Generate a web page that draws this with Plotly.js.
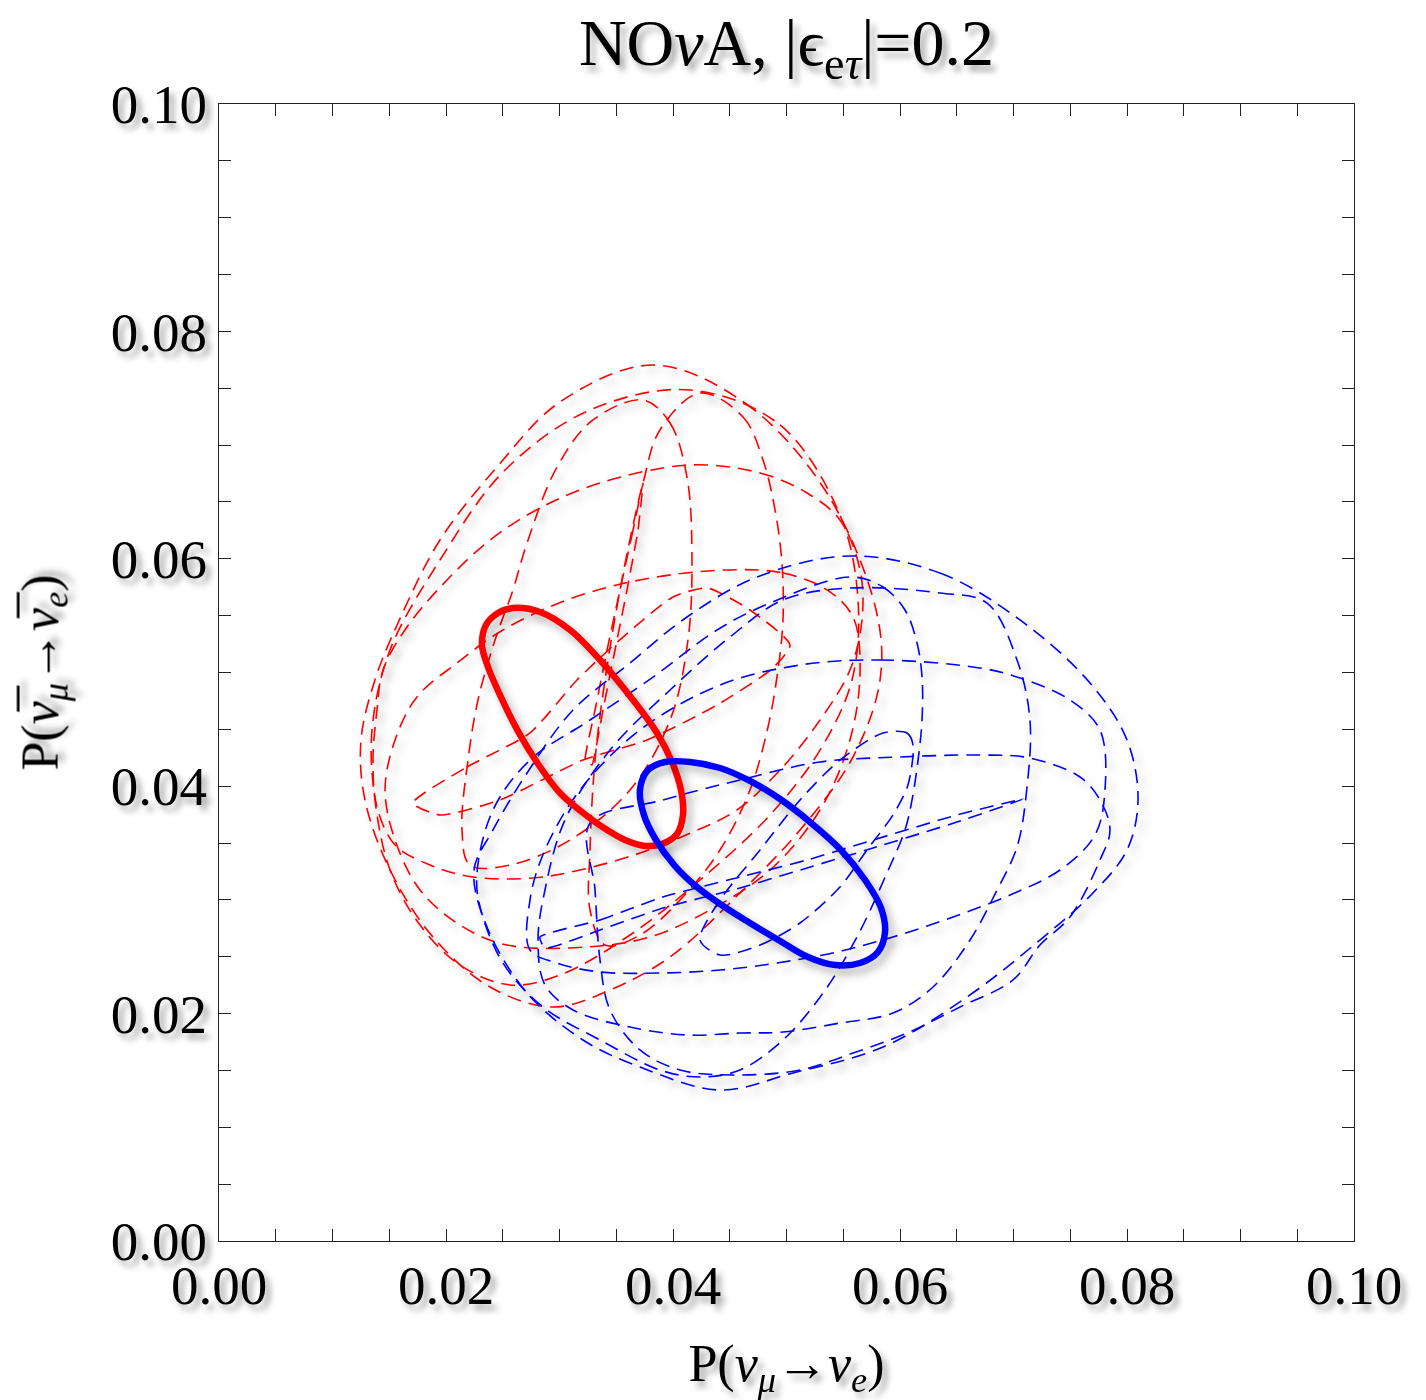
<!DOCTYPE html>
<html>
<head>
<meta charset="utf-8">
<script src="https://cdn.plot.ly/plotly-3.0.1.min.js"></script>
<style>
  body { margin: 0; background: #fff; }
  #chart { width: 1426px; height: 1400px; }
  .scatterlayer .trace path.js-line { filter: drop-shadow(5px 6px 4px rgba(0,0,0,0.28)); }
  .main-svg text { filter: drop-shadow(5px 6px 3px rgba(0,0,0,0.35)); }
</style>
</head>
<body>
<div id="chart"></div>
<script>
// ---- solid curves (standard interactions) ----
const solidRedX = [0.03357,0.03648,0.03859,0.03991,0.04070,0.04088,0.04035,0.03903,0.03753,0.03577,0.03392,0.03198,0.03004,0.02811,0.02634,0.02476,0.02370,0.02317,0.02352,0.02458,0.02590,0.02828,0.03093,0.03357];
const solidRedY = [0.05110,0.04758,0.04468,0.04213,0.03967,0.03747,0.03580,0.03492,0.03475,0.03527,0.03632,0.03773,0.03940,0.04195,0.04485,0.04802,0.05048,0.05242,0.05418,0.05523,0.05567,0.05532,0.05374,0.05110];
const solidBlueX = [0.04943,0.05207,0.05471,0.05692,0.05833,0.05868,0.05806,0.05648,0.05427,0.05189,0.04943,0.04678,0.04441,0.04211,0.04018,0.03850,0.03744,0.03709,0.03780,0.03930,0.04150,0.04414,0.04678,0.04943];
const solidBlueY = [0.03887,0.03685,0.03448,0.03175,0.02929,0.02718,0.02542,0.02445,0.02427,0.02498,0.02639,0.02797,0.02946,0.03113,0.03298,0.03527,0.03747,0.03967,0.04142,0.04213,0.04213,0.04160,0.04046,0.03887];

// ---- dashed red loops (NSI) ----
const r1X = [0.03824,0.04634,0.05339,0.05789,0.05824,0.05586,0.05119,0.04590,0.03974,0.03445,0.02943,0.02388,0.01885,0.01507,0.01286,0.01251,0.01374,0.01577,0.01947,0.02449,0.03004,0.03824];
const r1Y = [0.07704,0.07370,0.06605,0.05550,0.04934,0.04257,0.03615,0.03061,0.02498,0.02208,0.02058,0.02234,0.02674,0.03263,0.03879,0.04406,0.04934,0.05435,0.06165,0.06807,0.07379,0.07704];
const r2X = [0.04150,0.04943,0.05471,0.05630,0.05577,0.05295,0.04855,0.04238,0.03621,0.03004,0.02564,0.02123,0.01771,0.01507,0.01374,0.01348,0.01507,0.01947,0.02520,0.03269,0.04150];
const r2Y = [0.07485,0.07177,0.06385,0.05638,0.04934,0.04318,0.03747,0.03175,0.02691,0.02339,0.02252,0.02427,0.02779,0.03263,0.03879,0.04494,0.05198,0.05989,0.06781,0.07309,0.07485];
const r3X = [0.04150,0.04767,0.05181,0.05471,0.05648,0.05665,0.05559,0.05295,0.04943,0.04564,0.04176,0.03709,0.03181,0.02767,0.02238,0.01859,0.01551,0.01392,0.01357,0.01392,0.01445,0.01656,0.02009,0.02388,0.02828,0.03357,0.04150];
const r3Y = [0.06825,0.06755,0.06579,0.06341,0.05901,0.05462,0.05022,0.04582,0.04142,0.03791,0.03597,0.03412,0.03263,0.03193,0.03201,0.03307,0.03483,0.03817,0.04230,0.04670,0.05022,0.05400,0.05814,0.06165,0.06447,0.06667,0.06825];
const r4X = [0.04441,0.04969,0.05357,0.05586,0.05648,0.05559,0.05295,0.04855,0.04326,0.03797,0.03242,0.02537,0.02123,0.01771,0.01551,0.01463,0.01551,0.01744,0.02097,0.02502,0.03066,0.03709,0.04441];
const r4Y = [0.05901,0.05875,0.05726,0.05488,0.05022,0.04406,0.03791,0.03263,0.02911,0.02674,0.02586,0.02603,0.02779,0.03087,0.03527,0.03967,0.04406,0.04785,0.05084,0.05374,0.05638,0.05814,0.05901];
const r5X = [0.03736,0.03974,0.04123,0.04167,0.04132,0.03974,0.03621,0.03093,0.02564,0.02211,0.02141,0.02194,0.02282,0.02432,0.02590,0.02714,0.02978,0.03295,0.03736];
const r5Y = [0.07397,0.07194,0.06719,0.06016,0.05286,0.04582,0.03967,0.03527,0.03307,0.03307,0.03615,0.04230,0.04758,0.05286,0.05726,0.06139,0.06807,0.07221,0.07397];
const r6X = [0.04238,0.04617,0.04793,0.04899,0.04960,0.04969,0.04925,0.04837,0.04678,0.04414,0.04062,0.03709,0.03401,0.03269,0.03269,0.03313,0.03401,0.03533,0.03639,0.03736,0.03885,0.04238];
const r6Y = [0.07458,0.07247,0.06869,0.06429,0.05963,0.05462,0.05022,0.04521,0.03967,0.03439,0.02999,0.02691,0.02603,0.02911,0.03439,0.04230,0.04934,0.05726,0.06253,0.06667,0.07133,0.07458];
const r7X = [0.03736,0.03648,0.03533,0.03419,0.03313,0.03225,0.03286,0.03383,0.03489,0.03595,0.03692,0.03736];
const r7Y = [0.06667,0.06253,0.05726,0.05198,0.04670,0.04230,0.04186,0.04670,0.05198,0.05726,0.06253,0.06667];
const rnX = [0.01709,0.02185,0.02740,0.03154,0.03559,0.04000,0.04300,0.04678,0.05031,0.04881,0.04388,0.03771,0.03207,0.02476,0.01947,0.01709];
const rnY = [0.03852,0.04169,0.04468,0.04934,0.05312,0.05664,0.05743,0.05550,0.05242,0.05040,0.04714,0.04406,0.04230,0.03879,0.03747,0.03852];

// ---- dashed blue loops (NSI) ----
const b1X = [0.05559,0.06352,0.07057,0.07674,0.08000,0.08097,0.08000,0.07700,0.07233,0.06590,0.05850,0.05057,0.04414,0.03709,0.03207,0.02714,0.02361,0.02247,0.02414,0.02714,0.03119,0.03621,0.04123,0.04740,0.05559];
const b1Y = [0.06025,0.05875,0.05462,0.04908,0.04406,0.03879,0.03439,0.03061,0.02647,0.02146,0.01706,0.01478,0.01328,0.01530,0.01768,0.02181,0.02762,0.03263,0.03615,0.04116,0.04670,0.05084,0.05488,0.05840,0.06025];
const b2X = [0.05559,0.05850,0.06044,0.06150,0.06194,0.06194,0.06159,0.06106,0.06044,0.05885,0.05621,0.05322,0.04969,0.04590,0.04238,0.03885,0.03357,0.02855,0.02502,0.02300,0.02273,0.02414,0.02740,0.03269,0.03824,0.04388,0.04855,0.05559];
const b2Y = [0.05840,0.05752,0.05550,0.05259,0.04960,0.04582,0.04230,0.03879,0.03615,0.03237,0.02674,0.02181,0.01768,0.01504,0.01442,0.01504,0.01768,0.02058,0.02445,0.02938,0.03237,0.03791,0.04230,0.04582,0.04960,0.05374,0.05611,0.05840];
const b3X = [0.05559,0.06352,0.06767,0.07031,0.07145,0.07119,0.07031,0.06855,0.06617,0.06291,0.05938,0.05471,0.04969,0.04590,0.04123,0.03621,0.03119,0.02872,0.02811,0.02872,0.03048,0.03445,0.03974,0.04502,0.04969,0.05559];
const b3Y = [0.05743,0.05699,0.05611,0.05110,0.04582,0.03993,0.03465,0.03087,0.02647,0.02234,0.02005,0.01917,0.01838,0.01829,0.01812,0.01882,0.02032,0.02252,0.02647,0.03087,0.03703,0.04318,0.04846,0.05312,0.05638,0.05743];
const b4X = [0.05119,0.05824,0.06705,0.07057,0.07498,0.07762,0.07806,0.07718,0.07410,0.06969,0.06467,0.05938,0.05445,0.04916,0.04414,0.03885,0.03357,0.02978,0.02740,0.02740,0.02872,0.03181,0.03709,0.04414,0.05119];
const b4Y = [0.05066,0.05110,0.05040,0.04952,0.04758,0.04494,0.03967,0.03571,0.03263,0.03043,0.02850,0.02674,0.02542,0.02445,0.02383,0.02357,0.02366,0.02445,0.02559,0.02999,0.03439,0.03967,0.04494,0.04890,0.05066];
const b5X = [0.03269,0.03912,0.04590,0.05295,0.06000,0.06705,0.07145,0.07586,0.07762,0.07850,0.07762,0.07498,0.07233,0.06996,0.06529,0.06062,0.05586,0.05119,0.04529,0.04062,0.03709,0.03445,0.03357,0.03313,0.03269];
const b5Y = [0.03676,0.03879,0.04055,0.04213,0.04257,0.04274,0.04248,0.04081,0.03879,0.03615,0.03351,0.02850,0.02603,0.02296,0.02058,0.01829,0.01653,0.01504,0.01460,0.01504,0.01680,0.02032,0.02471,0.03087,0.03676];
const b6X = [0.05850,0.06062,0.06115,0.06070,0.05938,0.05709,0.05471,0.05119,0.04767,0.04414,0.04238,0.04414,0.04767,0.05119,0.05471,0.05850];
const b6Y = [0.04468,0.04468,0.04362,0.04011,0.03747,0.03439,0.03113,0.02797,0.02603,0.02515,0.02647,0.02999,0.03439,0.03879,0.04230,0.04468];
const bnX = [0.02828,0.03357,0.03912,0.04590,0.05181,0.05762,0.06502,0.07084,0.06502,0.05762,0.05181,0.04590,0.03912,0.03357,0.02872,0.02828];
const bnY = [0.02674,0.02823,0.03026,0.03201,0.03351,0.03527,0.03747,0.03887,0.03685,0.03456,0.03281,0.03105,0.02929,0.02735,0.02577,0.02674];

const tickVals = [0, 0.02, 0.04, 0.06, 0.08, 0.10];
const tickText = ['0.00', '0.02', '0.04', '0.06', '0.08', '0.10'];

const RED = '#ff0000', BLUE = '#0000ff';
function dashed(x, y, color, smooth) {
  return { x: x, y: y, type: 'scatter', mode: 'lines', hoverinfo: 'skip',
    line: { color: color, width: 1.6, dash: '14px,8px', shape: 'spline', smoothing: smooth } };
}
function solid(x, y, color) {
  return { x: x, y: y, type: 'scatter', mode: 'lines', hoverinfo: 'skip',
    line: { color: color, width: 6.5, shape: 'spline', smoothing: 1 } };
}

const traces = [
  dashed(r1X, r1Y, RED, 1), dashed(r2X, r2Y, RED, 1), dashed(r3X, r3Y, RED, 1),
  dashed(r4X, r4Y, RED, 1), dashed(r5X, r5Y, RED, 1), dashed(r6X, r6Y, RED, 1),
  dashed(r7X, r7Y, RED, 0.3), dashed(rnX, rnY, RED, 0.6),
  dashed(b1X, b1Y, BLUE, 1), dashed(b2X, b2Y, BLUE, 1), dashed(b3X, b3Y, BLUE, 1),
  dashed(b4X, b4Y, BLUE, 1), dashed(b5X, b5Y, BLUE, 1), dashed(b6X, b6Y, BLUE, 0.8),
  dashed(bnX, bnY, BLUE, 0.5),
  solid(solidRedX, solidRedY, RED), solid(solidBlueX, solidBlueY, BLUE)
];

const FONT = 'Liberation Serif, Times New Roman, DejaVu Serif, serif';
const axisCommon = {
  range: [0, 0.1], tickmode: 'array', tickvals: tickVals, ticktext: tickText,
  ticks: 'inside', ticklen: 12, tickwidth: 1, tickcolor: '#222',
  showline: true, linecolor: '#222', linewidth: 1, mirror: 'allticks',
  showgrid: false, zeroline: false, automargin: false,
  tickfont: { family: FONT, size: 55, color: '#000' },
  minor: { dtick: 0.005, tick0: 0, ticks: 'inside', ticklen: 12, tickwidth: 1, tickcolor: '#222', showgrid: false }
};

const layout = {
  width: 1426, height: 1400,
  margin: { l: 219, r: 72, t: 104, b: 159 },
  paper_bgcolor: '#fff', plot_bgcolor: '#fff',
  showlegend: false,
  font: { family: FONT, color: '#000' },
  title: { text: 'NO<i>ν</i>A, |ϵ<sub>e<i>τ</i></sub>|=0.2', font: { family: FONT, size: 66, color: '#000' },
           x: 0.5, xref: 'paper', xanchor: 'center', y: 0.970, yref: 'container', yanchor: 'middle' },
  xaxis: Object.assign({}, axisCommon, {
    ticklabelstandoff: -4,
    title: { text: 'P(<i>ν</i><sub><i>μ</i></sub>→<i>ν</i><sub><i>e</i></sub>)', font: { family: FONT, size: 52, color: '#000' }, standoff: 52 }
  }),
  yaxis: Object.assign({}, axisCommon, {
    ticklabelstandoff: 0,
    title: { text: 'P(<i>ν̅</i><sub><i>μ</i></sub>→<i>ν̅</i><sub><i>e</i></sub>)', font: { family: FONT, size: 52, color: '#000' }, standoff: 36 }
  })
};

Plotly.newPlot('chart', traces, layout, { displayModeBar: false, staticPlot: true });
</script>
</body>
</html>
